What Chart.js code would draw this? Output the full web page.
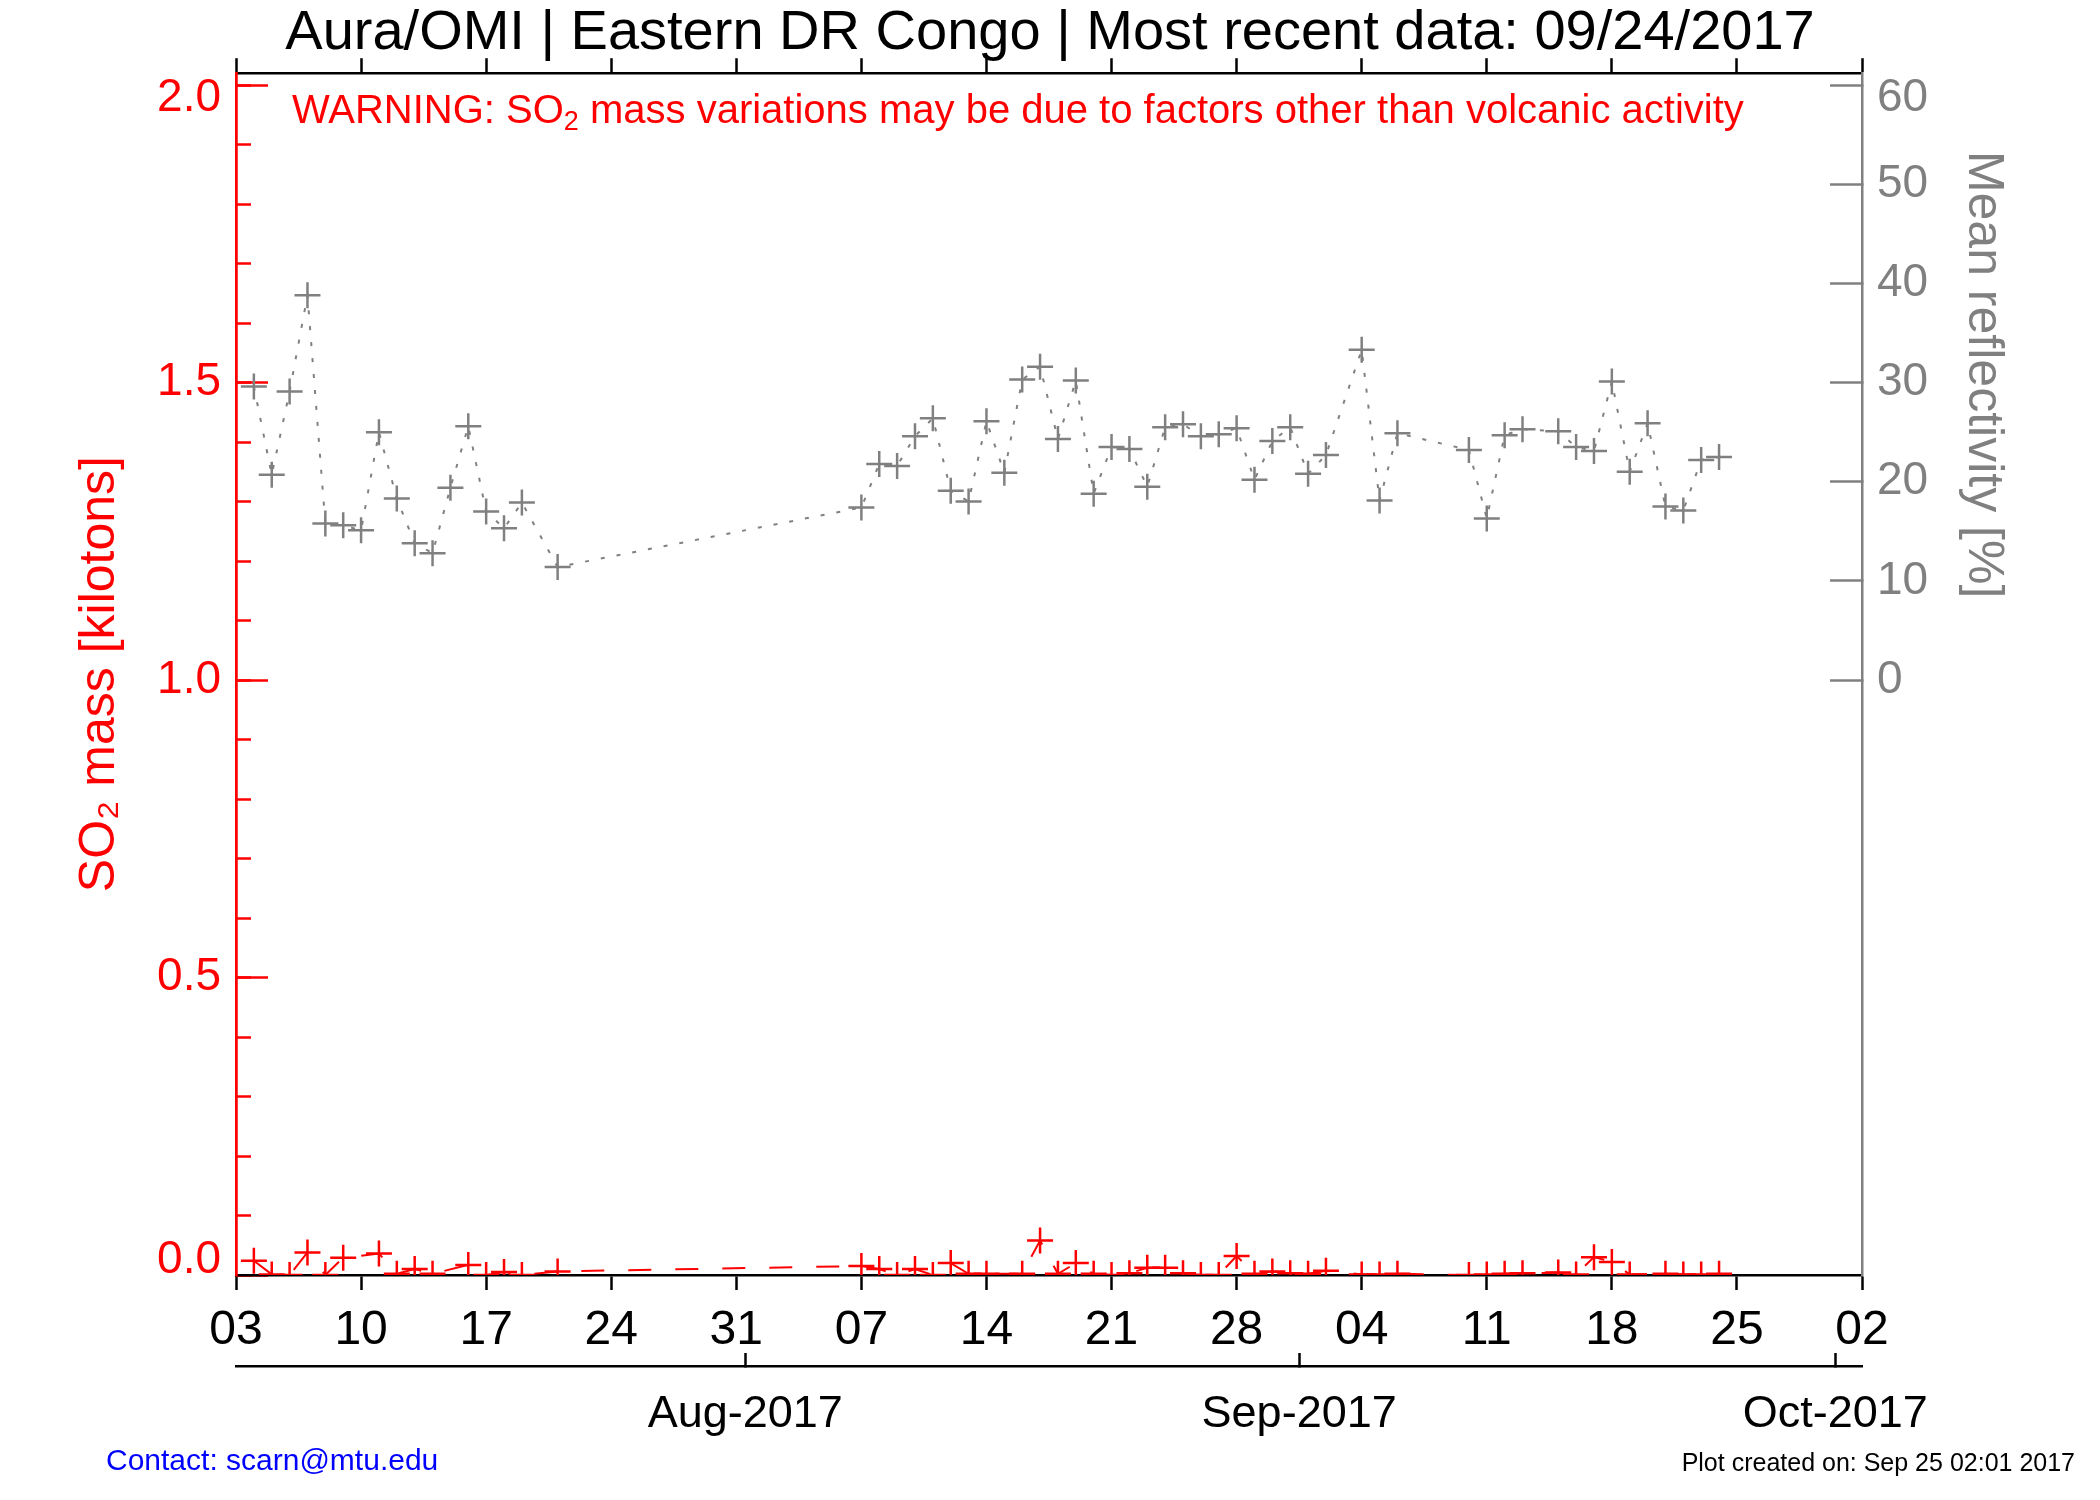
<!DOCTYPE html>
<html>
<head>
<meta charset="utf-8">
<script src="https://cdn.jsdelivr.net/npm/chart.js@4.4.1/dist/chart.umd.min.js"></script>
<style>
  html, body { margin: 0; padding: 0; background: #fff; }
  canvas { display: block; }
</style>
</head>
<body>
<canvas id="omiChart" width="2100" height="1500"></canvas>
<script>
// Zeitachse
const startDate = '2017-07-03';
const endDate = '2017-10-02';
const dayTickLabels = ['03', '10', '17', '24', '31', '07', '14', '21', '28', '04', '11', '18', '25', '02'];
const monthTickDates = ['2017-08-01', '2017-09-01', '2017-10-01'];
const monthTickLabels = ['Aug-2017', 'Sep-2017', 'Oct-2017'];

// Achsen-Ticks
const so2TickValues = [0, 0.5, 1.0, 1.5, 2.0];
const reflTickValues = [0, 10, 20, 30, 40, 50, 60];

// Mittlere Reflektivität [%]
const reflDates = [
    '2017-07-04', '2017-07-05', '2017-07-06', '2017-07-07', '2017-07-08', '2017-07-09', '2017-07-10',
    '2017-07-11', '2017-07-12', '2017-07-13', '2017-07-14', '2017-07-15', '2017-07-16', '2017-07-17',
    '2017-07-18', '2017-07-19', '2017-07-21',
    '2017-08-07', '2017-08-08', '2017-08-09', '2017-08-10', '2017-08-11', '2017-08-12', '2017-08-13',
    '2017-08-14', '2017-08-15', '2017-08-16', '2017-08-17', '2017-08-18', '2017-08-19', '2017-08-20',
    '2017-08-21', '2017-08-22', '2017-08-23', '2017-08-24', '2017-08-25', '2017-08-26', '2017-08-27',
    '2017-08-28', '2017-08-29', '2017-08-30', '2017-08-31', '2017-09-01', '2017-09-02', '2017-09-04',
    '2017-09-05', '2017-09-06', '2017-09-10', '2017-09-11', '2017-09-12', '2017-09-13', '2017-09-15',
    '2017-09-16', '2017-09-17', '2017-09-18', '2017-09-19', '2017-09-20', '2017-09-21', '2017-09-22',
    '2017-09-23', '2017-09-24'
];
const reflValues = [
    29.6, 20.7, 29.1, 38.8, 15.8, 15.6, 15.1,
    25.0, 18.3, 13.8, 12.8, 19.4, 25.6, 17.0,
    15.3, 17.9, 11.4,
    17.4, 21.8, 21.6, 24.6, 26.4, 19.1, 18.0,
    26.1, 20.9, 30.3, 31.6, 24.3, 30.2, 18.8,
    23.5, 23.3, 19.5, 25.5, 25.8, 24.6, 24.8,
    25.4, 20.2, 24.1, 25.5, 20.8, 22.7, 33.3,
    18.1, 24.9, 23.2, 16.3, 24.7, 25.3, 25.1,
    23.5, 23.1, 30.1, 21.0, 25.9, 17.5, 17.1,
    22.2, 22.5
];

// SO2-Masse [kt]
const so2Dates = [
    '2017-07-04', '2017-07-05', '2017-07-06', '2017-07-07', '2017-07-08', '2017-07-09', '2017-07-11',
    '2017-07-12', '2017-07-13', '2017-07-14', '2017-07-16', '2017-07-17', '2017-07-18', '2017-07-19',
    '2017-07-21',
    '2017-08-07', '2017-08-08', '2017-08-09', '2017-08-10', '2017-08-11', '2017-08-12', '2017-08-13',
    '2017-08-14', '2017-08-16', '2017-08-17', '2017-08-18', '2017-08-19', '2017-08-20', '2017-08-21',
    '2017-08-22', '2017-08-23', '2017-08-24', '2017-08-25', '2017-08-26', '2017-08-27', '2017-08-28',
    '2017-08-29', '2017-08-30', '2017-08-31', '2017-09-01', '2017-09-02', '2017-09-04', '2017-09-05',
    '2017-09-06', '2017-09-10', '2017-09-11', '2017-09-12', '2017-09-13', '2017-09-15', '2017-09-16',
    '2017-09-17', '2017-09-18', '2017-09-19', '2017-09-21', '2017-09-22', '2017-09-23', '2017-09-24'
];
const so2Values = [
    0.024, 0.001, 0.000, 0.038, 0.000, 0.029, 0.036,
    0.002, 0.010, 0.002, 0.017, 0.000, 0.005, 0.000,
    0.006,
    0.015, 0.010, 0.000, 0.010, 0.000, 0.020, 0.002,
    0.002, 0.002, 0.058, 0.002, 0.020, 0.002, 0.000,
    0.003, 0.012, 0.012, 0.003, 0.000, 0.000, 0.032,
    0.002, 0.006, 0.003, 0.002, 0.007, 0.001, 0.001,
    0.002, 0.000, 0.001, 0.002, 0.003, 0.004, 0.001,
    0.030, 0.022, 0.001, 0.002, 0.001, 0.001, 0.002
];

const FONT = "'Liberation Sans', Arial, 'DejaVu Sans', sans-serif";
Chart.defaults.font.family = FONT;
Chart.defaults.font.weight = 'normal';

// Tag relativ zum Start der Zeitachse
const dayOf = (s) => (Date.parse(s + 'T00:00:00Z') - Date.parse(startDate + 'T00:00:00Z')) / 86400000;
const totalDays = dayOf(endDate);

// linke Achse 0..2 kt, rechte Achse so gelegt, dass 0..60 % auf 1..2 kt fällt
const so2Max = 2.02;
const reflMin = -60;
const reflMax = reflMin + 60 * so2Max;

const weekTicks = () => dayTickLabels.map((_, i) => ({ value: i * 7 }));
const minorTicks = () => {
    const t = [];
    for (let i = 0; i <= 20; i++) t.push({ value: i / 10 });
    return t;
};

// Randbeschriftungen leicht nach innen schieben (leere Zeile darüber/darunter)
const edgeLabel = (text, v, lo, hi) => (v === lo ? [text, ''] : v === hi ? ['', text] : text);
const edgeFont = (lo, hi) => (c) => {
    const v = c.tick ? c.tick.value : null;
    return { size: 46, lineHeight: v === lo ? 0.65 : v === hi ? 0.57 : 1.2 };
};

// Warnhinweis, rechter Achsentitel und Fußzeile
const extraText = {
    id: 'extraText',
    afterDraw(chart) {
        const { ctx, chartArea } = chart;
        ctx.save();
        ctx.textBaseline = 'middle';

        // WARNING: SO2 ... (mit tiefgestellter 2)
        ctx.fillStyle = '#ff0000';
        let x = chartArea.left + 56;
        const wy = chartArea.top + 39;
        ctx.textAlign = 'left';
        ctx.font = '40px ' + FONT;
        ctx.fillText('WARNING: SO', x, wy);
        x += ctx.measureText('WARNING: SO').width;
        ctx.font = '27px ' + FONT;
        ctx.fillText('2', x, wy + 10);
        x += ctx.measureText('2').width;
        ctx.font = '40px ' + FONT;
        ctx.fillText(' mass variations may be due to factors other than volcanic activity', x, wy);

        // Titel rechte Achse, mittig über 0..60 %
        const y2 = chart.scales.y2;
        ctx.save();
        ctx.translate(chart.width - 117, y2.getPixelForValue(30) - 8);
        ctx.rotate(Math.PI / 2);
        ctx.textAlign = 'center';
        ctx.fillStyle = '#808080';
        ctx.font = '50px ' + FONT;
        ctx.fillText('Mean reflectivity [%]', 0, 0);
        ctx.restore();

        // Fußzeile
        ctx.textAlign = 'left';
        ctx.fillStyle = '#0000ff';
        ctx.font = '30px ' + FONT;
        ctx.fillText('Contact: scarn@mtu.edu', 106, chart.height - 38);
        ctx.textAlign = 'right';
        ctx.fillStyle = '#000000';
        ctx.font = '25px ' + FONT;
        ctx.fillText('Plot created on: Sep 25 02:01 2017', chart.width - 25, chart.height - 36);
        ctx.restore();
    }
};

new Chart(document.getElementById('omiChart'), {
    type: 'line',
    data: {
        datasets: [
            {
                label: 'SO2 mass',
                data: so2Dates.map((d, i) => ({ x: dayOf(d), y: so2Values[i] })),
                xAxisID: 'x',
                yAxisID: 'y',
                borderColor: '#ff0000',
                borderWidth: 2,
                borderDash: [23, 24],
                pointStyle: 'cross',
                pointRadius: 13,
                pointBorderWidth: 2.5,
                pointBorderColor: '#ff0000',
                pointBackgroundColor: '#ff0000',
                tension: 0,
                fill: false
            },
            {
                label: 'Mean reflectivity',
                data: reflDates.map((d, i) => ({ x: dayOf(d), y: reflValues[i] })),
                xAxisID: 'x',
                yAxisID: 'y2',
                borderColor: '#808080',
                borderWidth: 2,
                borderDash: [4, 12],
                pointStyle: 'cross',
                pointRadius: 13,
                pointBorderWidth: 2.5,
                pointBorderColor: '#808080',
                pointBackgroundColor: '#808080',
                tension: 0,
                fill: false
            }
        ]
    },
    options: {
        responsive: false,
        animation: false,
        events: [],
        layout: { padding: { top: 0, bottom: 44, left: 0, right: 0 } },
        plugins: {
            legend: { display: false },
            tooltip: { enabled: false },
            title: {
                display: true,
                text: 'Aura/OMI | Eastern DR Congo | Most recent data: 09/24/2017',
                color: '#000000',
                font: { size: 56, weight: 'normal', lineHeight: 0.7 },
                padding: { top: 3.4, bottom: 0 }
            }
        },
        scales: {
            x: {
                type: 'linear',
                position: 'bottom',
                weight: 0,
                min: 0,
                max: totalDays,
                afterBuildTicks: (s) => { s.ticks = weekTicks(); },
                ticks: {
                    callback: (v, i) => dayTickLabels[i],
                    color: '#000000',
                    font: { size: 48 },
                    padding: 12,
                    maxRotation: 0,
                    autoSkip: false
                },
                grid: { drawOnChartArea: false, tickLength: 15, tickWidth: 2.5, tickColor: '#000000' },
                border: { color: '#000000', width: 2.5 },
                afterFit: (s) => { s.height = 91; }
            },
            x2: {
                type: 'linear',
                position: 'bottom',
                weight: 1,
                min: 0,
                max: totalDays,
                // Monatsmarken liegen einen halben Tag vor Mitternacht des Monatsersten
                afterBuildTicks: (s) => { s.ticks = monthTickDates.map((d) => ({ value: dayOf(d) - 0.5 })); },
                ticks: {
                    callback: (v, i) => monthTickLabels[i],
                    color: '#000000',
                    font: { size: 45 },
                    padding: 35,
                    maxRotation: 0,
                    autoSkip: false
                },
                grid: { drawOnChartArea: false, tickLength: -13, tickWidth: 2.5, tickColor: '#000000' },
                border: { color: '#000000', width: 2.5 },
                afterFit: (s) => { s.height = 90; }
            },
            xTop: {
                type: 'linear',
                position: 'top',
                min: 0,
                max: totalDays,
                afterBuildTicks: (s) => { s.ticks = weekTicks(); },
                ticks: { display: false },
                grid: { drawOnChartArea: false, tickLength: 15, tickWidth: 2.5, tickColor: '#000000' },
                border: { color: '#000000', width: 2.5 },
                afterFit: (s) => { s.height = 20.4; }
            },
            y: {
                type: 'linear',
                position: 'left',
                weight: 1,
                min: 0,
                max: so2Max,
                afterBuildTicks: (s) => { s.ticks = so2TickValues.map((v) => ({ value: v })); },
                ticks: {
                    callback: (v) => edgeLabel(v.toFixed(1), v, 0, 2),
                    color: '#ff0000',
                    font: edgeFont(0, 2),
                    padding: 47
                },
                grid: { drawOnChartArea: false, tickLength: -32, tickWidth: 2.5, tickColor: '#ff0000' },
                border: { color: '#ff0000', width: 2.5 },
                title: {
                    display: true,
                    text: 'SO₂ mass [kilotons]',
                    color: '#ff0000',
                    font: { size: 50 },
                    padding: { top: 70, bottom: 0 }
                },
                afterFit: (s) => { s.width = 236; }
            },
            yMinor: {
                type: 'linear',
                position: 'left',
                weight: 0,
                min: 0,
                max: so2Max,
                afterBuildTicks: (s) => { s.ticks = minorTicks(); },
                ticks: { display: false },
                grid: { drawOnChartArea: false, tickLength: -15, tickWidth: 2.5, tickColor: '#ff0000' },
                border: { color: '#ff0000', width: 2.5 },
                afterFit: (s) => { s.width = 0; }
            },
            y2: {
                type: 'linear',
                position: 'right',
                min: reflMin,
                max: reflMax,
                afterBuildTicks: (s) => { s.ticks = reflTickValues.map((v) => ({ value: v })); },
                ticks: {
                    callback: (v) => edgeLabel(String(v), v, null, 60),
                    color: '#808080',
                    font: edgeFont(null, 60),
                    padding: 47
                },
                grid: { drawOnChartArea: false, tickLength: -32, tickWidth: 2.5, tickColor: '#808080' },
                border: { color: '#808080', width: 2.5 },
                afterFit: (s) => { s.width = 238; }
            }
        }
    },
    plugins: [extraText]
});
</script>
</body>
</html>
